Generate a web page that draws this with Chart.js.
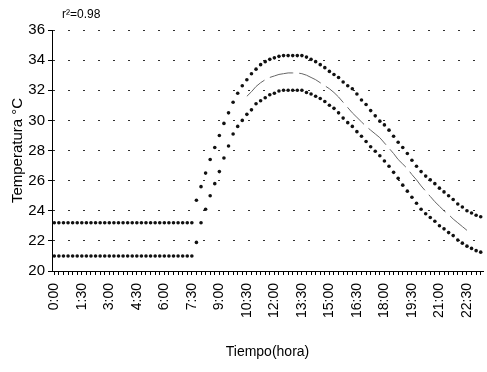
<!DOCTYPE html>
<html>
<head>
<meta charset="utf-8">
<script src="https://cdn.jsdelivr.net/npm/chart.js@4.4.0/dist/chart.umd.min.js"></script>
<style>
  html, body { margin: 0; padding: 0; background: #fff; }
  #chart { display: block; }
</style>
</head>
<body>
<canvas id="chart" width="487" height="372"></canvas>
<script>
// 15-minute readings from 0:00 to 23:15
const times = [];
for (let i = 0; i < 94; i++) {
  const h = Math.floor(i / 4);
  const m = (i % 4) * 15;
  times.push(`${h}:${m === 0 ? '00' : m}`);
}

const upperTemps = [
  23.2, 23.2, 23.2, 23.2, 23.2, 23.2, 23.2, 23.2, 23.2, 23.2,
  23.2, 23.2, 23.2, 23.2, 23.2, 23.2, 23.2, 23.2, 23.2, 23.2,
  23.2, 23.2, 23.2, 23.2, 23.2, 23.2, 23.2, 23.2, 23.2, 23.2,
  23.2, 24.7, 25.6, 26.5, 27.4, 28.2, 29.0, 29.8, 30.5, 31.2,
  31.8, 32.3, 32.7, 33.1, 33.4, 33.7, 33.9, 34.05, 34.15, 34.25,
  34.3, 34.3, 34.3, 34.3, 34.3, 34.2, 34.05, 33.9, 33.7, 33.5,
  33.25, 33.05, 32.85, 32.55, 32.3, 32.1, 31.75, 31.35, 31.05, 30.65,
  30.3, 29.95, 29.7, 29.35, 28.95, 28.55, 28.2, 27.8, 27.35, 26.95,
  26.6, 26.3, 26.05, 25.8, 25.5, 25.25, 25.0, 24.75, 24.45, 24.25,
  24.0, 23.85, 23.7, 23.6,
];

const lowerTemps = [
  21.0, 21.0, 21.0, 21.0, 21.0, 21.0, 21.0, 21.0, 21.0, 21.0,
  21.0, 21.0, 21.0, 21.0, 21.0, 21.0, 21.0, 21.0, 21.0, 21.0,
  21.0, 21.0, 21.0, 21.0, 21.0, 21.0, 21.0, 21.0, 21.0, 21.0,
  21.0, 21.9, 23.2, 24.1, 25.0, 25.8, 26.6, 27.5, 28.3, 29.1,
  29.6, 30.0, 30.4, 30.7, 31.1, 31.3, 31.5, 31.7, 31.8, 31.95,
  32.0, 32.0, 32.0, 32.0, 32.0, 31.85, 31.75, 31.6, 31.45, 31.25,
  31.0, 30.8, 30.5, 30.15, 29.85, 29.6, 29.25, 28.95, 28.6, 28.25,
  27.95, 27.65, 27.3, 26.95, 26.55, 26.15, 25.7, 25.3, 24.9, 24.5,
  24.1, 23.8, 23.55, 23.3, 23.0, 22.8, 22.55, 22.35, 22.05, 21.85,
  21.65, 21.5, 21.35, 21.25,
];

// fitted curve, only drawn from 10:30 to 22:30
const fitTemps = [
  null, null, null, null, null, null, null, null, null, null,
  null, null, null, null, null, null, null, null, null, null,
  null, null, null, null, null, null, null, null, null, null,
  null, null, null, null, null, null, null, null, null, null,
  null, null, 31.6, 31.9, 32.25, 32.5, 32.7, 32.85, 32.95, 33.05,
  33.1, 33.15, 33.15, 33.15, 33.1, 33.0, 32.85, 32.7, 32.5, 32.3,
  32.1, 31.85, 31.55, 31.2, 30.85, 30.5, 30.2, 29.9, 29.6, 29.35,
  29.1, 28.85, 28.5, 28.15, 27.8, 27.4, 27.1, 26.8, 26.4, 26.05,
  25.65, 25.3, 24.95, 24.6, 24.3, 24.0, 23.75, 23.45, 23.2, 22.95,
  22.7, null, null, null,
];

const yTicks = [20, 22, 24, 26, 28, 30, 32, 34, 36];
const labelEvery = 6;
const rSquared = 'r²=0.98';

const FONT = "'Liberation Sans', Arial, sans-serif";
const INK = '#000';

// small label in the top-left corner
const noteLabel = {
  id: 'noteLabel',
  afterDraw(chart) {
    const { ctx } = chart;
    ctx.save();
    ctx.fillStyle = INK;
    ctx.font = `12px ${FONT}`;
    ctx.textBaseline = 'middle';
    ctx.fillText(rSquared, 62, 15);
    ctx.restore();
  },
};

function markerSet(data) {
  return {
    data,
    showLine: false,
    pointRadius: 1.8,
    pointStyle: 'circle',
    pointBackgroundColor: '#111',
    pointBorderWidth: 0,
    borderColor: '#111',
  };
}

new Chart(document.getElementById('chart').getContext('2d'), {
  type: 'line',
  data: {
    labels: times,
    datasets: [
      markerSet(upperTemps),
      markerSet(lowerTemps),
      {
        data: fitTemps,
        borderColor: '#666',
        borderWidth: 1,
        borderDash: [24, 6],
        pointRadius: 0,
        spanGaps: false,
        tension: 0,
      },
    ],
  },
  options: {
    responsive: false,
    animation: false,
    layout: { padding: { top: 30, right: 3, left: 0, bottom: 0 } },
    plugins: {
      legend: { display: false },
      tooltip: { enabled: false },
    },
    scales: {
      x: {
        offset: true,
        afterFit: (scale) => {
          scale.height = 101;
          scale.paddingLeft = 0;
          scale.paddingRight = 0;
        },
        grid: {
          drawOnChartArea: false,
          drawTicks: true,
          tickLength: 4,
          tickColor: INK,
          offset: false,
        },
        border: { display: true, color: INK, width: 1 },
        ticks: {
          autoSkip: false,
          maxRotation: 90,
          minRotation: 90,
          padding: 8,
          color: INK,
          font: { family: FONT, size: 14 },
          callback: (value, index) => (index % labelEvery === 0 ? times[index] : ''),
        },
        title: {
          display: true,
          text: 'Tiempo(hora)',
          color: INK,
          font: { family: FONT, size: 14 },
          padding: { top: 0, bottom: 11 },
        },
      },
      y: {
        min: yTicks[0],
        max: yTicks[yTicks.length - 1],
        afterFit: (scale) => {
          scale.width = 52;
          scale.paddingTop = 0;
          scale.paddingBottom = 0;
        },
        afterBuildTicks: (scale) => { scale.ticks = yTicks.map((v) => ({ value: v })); },
        grid: {
          color: '#333',
          lineWidth: 1,
          drawTicks: true,
          tickLength: 4,
          tickColor: INK,
          tickBorderDash: [],
        },
        border: { display: true, color: INK, width: 1, dash: [2, 13] },
        ticks: {
          padding: 3,
          color: INK,
          font: { family: FONT, size: 15 },
        },
        title: {
          display: true,
          text: 'Temperatura °C',
          color: INK,
          font: { family: FONT, size: 15 },
          padding: { top: 9, bottom: 0 },
        },
      },
    },
  },
  plugins: [noteLabel],
});
</script>
</body>
</html>
